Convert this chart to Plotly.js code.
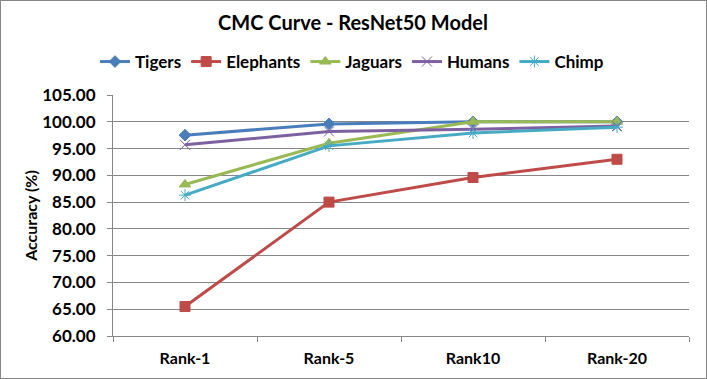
<!DOCTYPE html>
<html><head><meta charset="utf-8">
<script src="https://cdn.plot.ly/plotly-3.0.1.min.js"></script>
<style>
html,body{margin:0;padding:0;background:#fff;}
#chart{width:707px;height:379px;box-sizing:border-box;border:1px solid #868686;}
</style></head>
<body><div id="chart"></div>
<script>
const categories = ["Rank-1", "Rank-5", "Rank10", "Rank-20"];
const tigers    = [97.5, 99.6, 100.0, 100.0];
const elephants = [65.5, 85.0, 89.6, 93.0];
const jaguars   = [88.3, 96.0, 100.0, 100.0];
const humans    = [95.7, 98.2, 98.6, 99.2];
const chimp     = [86.3, 95.5, 97.9, 99.0];
const yTicks = [60, 65, 70, 75, 80, 85, 90, 95, 100, 105];

function tr(name, y, color, symbol, size) {
  return {
    type: 'scatter', mode: 'lines+markers', name: name, x: categories, y: y,
    line: {color: color, width: 3},
    marker: {symbol: symbol, size: size, color: color, line: {color: color, width: 1}}
  };
}
const data = [
  tr('Tigers', tigers, '#4A7EBB', 'diamond', 9),
  tr('Elephants', elephants, '#BE4B48', 'square', 10),
  tr('Jaguars', jaguars, '#98B954', 'triangle-up', 10),
  tr('Humans', humans, '#7D60A0', 'x-thin-open', 10),
  tr('Chimp', chimp, '#46AAC5', 'asterisk-open', 10)
];
const fam = 'Lato, "Liberation Sans", sans-serif';
const layout = {
  width: 705, height: 377,
  margin: {l: 112, r: 17, t: 94, b: 42},
  paper_bgcolor: '#fff', plot_bgcolor: '#fff',
  font: {family: fam, color: '#000'},
  showlegend: true,
  title: {text: '<b>CMC Curve - ResNet50 Model</b>', x: 352/705, xref: 'container', xanchor: 'center',
          y: 1 - 22/377, yref: 'container', yanchor: 'middle',
          font: {family: fam, size: 20, color: '#000'}},
  legend: {orientation: 'h', xref: 'container', x: 94/705, xanchor: 'left',
           yref: 'container', y: 1 - 61/377, yanchor: 'middle',
           font: {family: fam, size: 17, color: '#000', weight: 'bold'}, itemwidth: 30},
  xaxis: {
    type: 'category', range: [-0.5, 3.5], tickson: 'boundaries', ticks: 'outside', ticklen: 5, tickcolor: '#868686',
    showline: true, linecolor: '#868686', linewidth: 1, showgrid: false, ticklabelstandoff: 8,
    tickfont: {family: fam, size: 16, color: '#000', weight: 'bold'}
  },
  yaxis: {
    range: [60, 105], tickvals: yTicks, tickformat: '.2f', ticks: 'outside', ticklen: 5, tickcolor: '#868686',
    showline: true, linecolor: '#868686', linewidth: 1, showgrid: true, gridcolor: '#868686', gridwidth: 1,
    zeroline: false, ticklabelstandoff: 8,
    tickfont: {family: fam, size: 17, color: '#000', weight: 'bold'},
    title: {text: '<b>Accuracy (%)</b>', standoff: 0, font: {family: fam, size: 16, color: '#000'}}
  }
};
Plotly.newPlot('chart', data, layout, {displayModeBar: false, staticPlot: true});
</script></body></html>
